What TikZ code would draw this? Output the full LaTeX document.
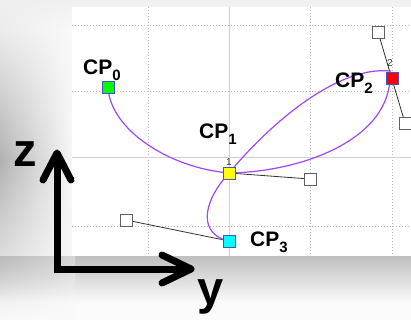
\documentclass[tikz,border=0pt]{standalone}
\usepackage{fontspec}
\setmainfont{Liberation Sans}
\usetikzlibrary{fadings}
\tikzfading[name=vfade, top color=transparent!100, bottom color=transparent!100, middle color=transparent!0]
\definecolor{curvecol}{RGB}{160,70,250}
\definecolor{cpborder}{RGB}{70,80,200}
\definecolor{cpcyan}{RGB}{0,255,255}
\definecolor{cpgreen}{RGB}{0,255,0}
\definecolor{cpred}{RGB}{255,0,0}
\definecolor{cpyellow}{RGB}{255,255,0}
\begin{document}
\begin{tikzpicture}[x=1pt,y=-1pt,
  gridd/.style={gray!55, line width=0.7pt, dash pattern=on 1pt off 2pt},
  grids/.style={gray!35, line width=1pt},
  cpt/.style={draw=cpborder, line width=0.9pt, minimum size=12pt, inner sep=0pt},
  hnd/.style={draw=gray!75!black, fill=white, line width=0.9pt, minimum size=12pt, inner sep=0pt},
  hline/.style={draw=black!80, line width=0.8pt},
  lbl/.style={font=\bfseries\fontsize{21}{21}\selectfont, inner sep=0pt, anchor=base west},
  idx/.style={font=\fontsize{10}{10}\selectfont, inner sep=0pt, text=black!80},
  axis/.style={line width=7pt, black, line cap=round, line join=round},
  axlbl/.style={font=\bfseries\fontsize{47}{47}\selectfont, inner sep=0pt, anchor=base}
]
\useasboundingbox (0,0) rectangle (411,320);
% background
\fill[gray!4] (0,0) rectangle (411,320);
\shade[top color=gray!12, bottom color=gray!4] (0,0) rectangle (411,30);
\shade[top color=gray!50, bottom color=gray!4] (0,256) rectangle (411,302);
\shade[left color=gray!60, right color=gray!4, path fading=vfade] (0,0) rectangle (75,320);
% panel
\fill[white] (72,7) rectangle (411,256);
% grid
\foreach \x in {148,310,392} \draw[gridd] (\x,7) -- (\x,256);
\foreach \y in {25,91,226} \draw[gridd] (72,\y) -- (411,\y);
\draw[grids] (229,7) -- (229,256);
\draw[grids] (72,158) -- (411,158);
% points
\coordinate (c0) at (108,87);
\coordinate (c1) at (229,173);
\coordinate (c2) at (392,78);
\coordinate (c3) at (229,241);
\coordinate (h1) at (310,179);
\coordinate (h2a) at (378,32);
\coordinate (h2b) at (405,123);
\coordinate (h3) at (126,220);
% handle lines
\draw[hline] (h1) -- (c1);
\draw[hline] (h2a) -- (h2b);
\draw[hline] (h3) -- (c3);
% curve
\draw[curvecol, line width=1.2pt]
  (c0) .. controls (110,130) and (170,168) .. (c1)
       .. controls (275,118) and (340,66) .. (390,71)
       .. controls (394,140) and (300,172) .. (c1)
       .. controls (200,205) and (200,235) .. (c3);
% handle squares
\node[hnd] (n1) at (h1) {};
\node[hnd] (n2a) at (h2a) {};
\node[hnd] (n2b) at (h2b) {};
\node[hnd] (n3) at (h3) {};
% control points
\node[cpt, fill=cpgreen] (cp0) at (c0) {};
\node[cpt, fill=cpyellow] (cp1) at (c1) {};
\node[cpt, fill=cpred] (cp2) at (c2) {};
\node[cpt, fill=cpcyan] (cp3) at (c3) {};
% labels
\node[lbl] (l0) at (83,75) {CP\raisebox{-6pt}{\fontsize{15}{15}\selectfont 0}};
\node[lbl] (l1) at (199,139) {CP\raisebox{-6pt}{\fontsize{15}{15}\selectfont 1}};
\node[lbl] (l2) at (335,88) {CP\raisebox{-6pt}{\fontsize{15}{15}\selectfont 2}};
\node[lbl] (l3) at (250,246) {CP\raisebox{-6pt}{\fontsize{15}{15}\selectfont 3}};
\node[idx] (i1) at (229,162) {1};
\node[idx] (i2) at (390,63) {2};
% axes
\draw[axis, line cap=butt, line join=miter] (57,160) -- (57,269) -- (185,269);
\draw[axis] (43,180) -- (57,153) -- (71,180);
\draw[axis] (162,255) -- (191,269) -- (162,283);
\node[axlbl] (z) at (25,167) {z};
\node[axlbl] (y) at (211,304) {y};
\end{tikzpicture}
\end{document}
